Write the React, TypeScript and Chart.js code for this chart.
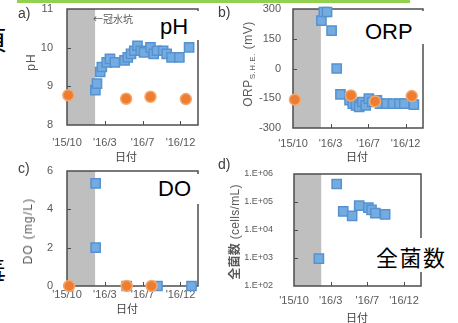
import React, { useEffect, useRef } from 'react';
import { Chart, registerables } from 'chart.js';

Chart.register(...registerables);

// ---------- data ----------
// x values are days counted from the axis origin ('15/10)
const xTickValues = [0, 140, 280, 420];
const xTickLabels = ["'15/10", "'16/3", "'16/7", "'16/12"];
const xMaxDays = 485;
const floodEndDay = 104;

// a) pH
const phFloodDays = [105, 111, 123, 129, 147, 159, 177, 213, 225, 237, 249, 261, 273, 285, 309, 321, 333, 356, 369, 387, 416, 452];
const phFloodValues = [8.9, 9.07, 9.37, 9.5, 9.62, 9.71, 9.62, 9.67, 9.75, 9.84, 9.92, 10.05, 9.92, 9.88, 10.01, 9.84, 9.92, 9.92, 9.84, 9.75, 9.75, 10.01];
const phRefDays = [5, 219, 309, 440];
const phRefValues = [8.77, 8.68, 8.73, 8.67];

// b) ORP
const orpFloodDays = [106, 115, 127, 144, 163, 177, 211, 223, 235, 247, 259, 271, 283, 295, 313, 325, 349, 373, 397, 415, 451];
const orpFloodValues = [241, 285, 285, 191, 0, -130, -160, -177, -186, -194, -169, -186, -152, -169, -160, -177, -177, -177, -177, -177, -182];
const orpRefDays = [7, 216, 306, 443];
const orpRefValues = [-157, -136, -166, -139];

// c) DO
const doFloodDays = [106, 106, 221, 335, 461];
const doFloodValues = [5.35, 2.0, 0, 0, 0];
const doRefDays = [8, 221, 313];
const doRefValues = [0, 0, 0];

// d) total bacteria
const countFloodDays = [95, 163, 188, 222, 249, 284, 296, 311, 348];
const countFloodValues = [950, 440000, 46000, 32000, 74000, 63000, 52000, 40000, 36000];

// y ticks
const phTicks = [8, 9, 10, 11];
const orpTicks = [-300, -150, 0, 150, 300];
const doTicks = [0, 2, 4, 6];
const countTicks = [1e2, 1e3, 1e4, 1e5, 1e6];

// ---------- helpers ----------
const zip = (xs: number[], ys: number[]) => xs.map((x, i) => ({ x, y: ys[i] }));

const LATIN = "'Liberation Sans', Arial, sans-serif";
const CJK = "'Noto Sans CJK JP', 'Noto Sans', sans-serif";

const decoPlugin = {
  id: 'deco',
  beforeDatasetsDraw(chart: any, _args: any, opts: any) {
    const { ctx, chartArea: ca, scales } = chart;
    const x = scales.x;
    const y = scales.y;
    ctx.save();
    const xe = x.getPixelForValue(opts.floodEnd);
    ctx.fillStyle = '#bfbfbf';
    ctx.fillRect(ca.left, ca.top, xe - ca.left, ca.bottom - ca.top);
    ctx.strokeStyle = '#4d4d4d';
    ctx.lineWidth = 1.5;
    ctx.strokeRect(ca.left, ca.top, ca.right - ca.left, ca.bottom - ca.top);
    ctx.lineWidth = 1;
    ctx.beginPath();
    x.ticks.forEach((t: any) => {
      const px = Math.round(x.getPixelForValue(t.value)) + 0.5;
      if (px > ca.left + 2 && px < ca.right - 2) {
        ctx.moveTo(px, ca.bottom);
        ctx.lineTo(px, ca.bottom - 4);
      }
    });
    y.ticks.forEach((t: any) => {
      const py = Math.round(y.getPixelForValue(t.value)) + 0.5;
      if (py > ca.top + 2 && py < ca.bottom - 2) {
        ctx.moveTo(ca.left, py);
        ctx.lineTo(ca.left + 4, py);
      }
    });
    ctx.stroke();
    ctx.restore();
  },
};

type PanelCfg = {
  left: number; top: number; w: number; h: number;
  yWidth: number; xHeight: number; padTop: number; padRight: number;
  yTickLen: number; xTickLen: number; xTickPad: number; yFont: number;
  yScale: any; yTickValues: number[]; yLabel: (v: number) => string;
  blue: { x: number; y: number }[]; orange: { x: number; y: number }[];
};

function Panel({ cfg }: { cfg: PanelCfg }) {
  const ref = useRef<HTMLCanvasElement>(null);
  useEffect(() => {
    const datasets: any[] = [];
    if (cfg.orange.length) {
      datasets.push({
        data: cfg.orange,
        pointStyle: 'circle',
        pointRadius: 5.5,
        backgroundColor: '#ed7d31',
        borderColor: '#f4a86f',
        borderWidth: 1.5,
        clip: false,
        order: 0,
      });
    }
    datasets.push({
      data: cfg.blue,
      pointStyle: 'rect',
      pointRadius: 6.5,
      backgroundColor: '#74ace2',
      borderColor: '#5592cf',
      borderWidth: 1.5,
      clip: false,
      order: 1,
    });
    const chart = new Chart(ref.current as HTMLCanvasElement, {
      type: 'scatter',
      data: { datasets },
      plugins: [decoPlugin],
      options: {
        responsive: false,
        animation: false,
        layout: { padding: { top: cfg.padTop, right: cfg.padRight, left: 0, bottom: 0 } },
        plugins: {
          legend: { display: false },
          tooltip: { enabled: false },
          deco: { floodEnd: floodEndDay },
        } as any,
        scales: {
          x: {
            type: 'linear',
            min: 0,
            max: xMaxDays,
            afterBuildTicks: (s: any) => { s.ticks = xTickValues.map((v) => ({ value: v })); },
            afterFit: (s: any) => { s.height = cfg.xHeight; },
            grid: { display: true, drawOnChartArea: false, drawTicks: true, tickLength: cfg.xTickLen, color: 'rgba(0,0,0,0)' },
            border: { display: false },
            ticks: {
              padding: cfg.xTickPad,
              color: '#595959',
              font: { family: LATIN, size: 11 },
              maxRotation: 0,
              autoSkip: false,
              callback: (v: any) => { const i = xTickValues.indexOf(Number(v)); return i >= 0 ? xTickLabels[i] : ''; },
            },
          },
          y: {
            ...cfg.yScale,
            afterBuildTicks: (s: any) => { s.ticks = cfg.yTickValues.map((v) => ({ value: v })); },
            afterFit: (s: any) => { s.width = cfg.yWidth; },
            grid: { display: true, drawOnChartArea: false, drawTicks: true, tickLength: cfg.yTickLen, color: 'rgba(0,0,0,0)' },
            border: { display: false },
            ticks: {
              padding: 3,
              color: '#595959',
              font: { family: LATIN, size: cfg.yFont },
              autoSkip: false,
              callback: (v: any) => cfg.yLabel(Number(v)),
            },
          },
        },
      } as any,
    });
    return () => chart.destroy();
  }, []);
  return (
    <canvas
      ref={ref}
      width={cfg.w}
      height={cfg.h}
      style={{ position: 'absolute', left: cfg.left, top: cfg.top, width: cfg.w, height: cfg.h }}
    />
  );
}

const panelA: PanelCfg = {
  left: 17, top: -3, w: 189, h: 158, yWidth: 50, xHeight: 30, padTop: 12, padRight: 4,
  yTickLen: 11, xTickLen: 8, xTickPad: 3, yFont: 11,
  yScale: { type: 'linear', min: 8, max: 11 }, yTickValues: phTicks, yLabel: (v) => String(v),
  blue: zip(phFloodDays, phFloodValues), orange: zip(phRefDays, phRefValues),
};
const panelB: PanelCfg = {
  left: 243, top: -3, w: 188, h: 161, yWidth: 50, xHeight: 30, padTop: 12, padRight: 4,
  yTickLen: 9, xTickLen: 6, xTickPad: 3, yFont: 11,
  yScale: { type: 'linear', min: -300, max: 300 }, yTickValues: orpTicks, yLabel: (v) => String(v),
  blue: zip(orpFloodDays, orpFloodValues), orange: zip(orpRefDays, orpRefValues),
};
const panelC: PanelCfg = {
  left: 17, top: 159, w: 189, h: 157, yWidth: 50, xHeight: 30, padTop: 12, padRight: 4,
  yTickLen: 11, xTickLen: 0, xTickPad: 2, yFont: 11,
  yScale: { type: 'linear', min: 0, max: 6 }, yTickValues: doTicks, yLabel: (v) => String(v),
  blue: zip(doFloodDays, doFloodValues), orange: zip(doRefDays, doRefValues),
};
const panelD: PanelCfg = {
  left: 244, top: 162, w: 185, h: 154, yWidth: 50, xHeight: 30, padTop: 12, padRight: 4,
  yTickLen: 18, xTickLen: 5, xTickPad: 3, yFont: 9,
  yScale: { type: 'logarithmic', min: 100, max: 1e6 }, yTickValues: countTicks,
  yLabel: (v) => '1.E+' + String(Math.round(Math.log10(v))).padStart(2, '0'),
  blue: zip(countFloodDays, countFloodValues), orange: [],
};

const abs = (s: React.CSSProperties): React.CSSProperties => ({ position: 'absolute', whiteSpace: 'nowrap', ...s });

function VTitle({ cx, cy, children, style }: { cx: number; cy: number; children: React.ReactNode; style?: React.CSSProperties }) {
  return (
    <div
      style={abs({
        left: cx, top: cy, transform: 'translate(-50%, -50%) rotate(-90deg)',
        fontFamily: LATIN, fontSize: 12, color: '#595959', lineHeight: '14px', ...style,
      })}
    >
      {children}
    </div>
  );
}

function XTitle({ cx, cy }: { cx: number; cy: number }) {
  return (
    <div style={abs({ left: cx, top: cy, transform: 'translate(-50%, -50%)', fontFamily: CJK, fontSize: 11, color: '#404040', lineHeight: '12px' })}>
      日付
    </div>
  );
}

function BigLabel({ left, top, text, w, h, bx, by, style }: { left: number; top: number; text: string; w: number; h: number; bx: number; by: number; style?: React.CSSProperties }) {
  return (
    <>
      <div style={abs({ left: bx, top: by, width: w, height: h, background: '#ffffff' })} />
      <div style={abs({ left, top, fontFamily: LATIN, fontSize: 22, lineHeight: '22px', color: '#000', ...style })}>{text}</div>
    </>
  );
}

export default function App() {
  return (
    <div style={{ position: 'fixed', left: 0, top: 0, width: 458, height: 323, background: '#fff', overflow: 'hidden' }}>
      <div style={abs({ left: 17, top: 0, width: 393, height: 3, background: '#92d050' })} />
      <div style={abs({ left: -19, top: 26, fontFamily: CJK, fontSize: 26, lineHeight: '26px', color: '#000' })}>頁</div>
      <div style={abs({ left: -22, top: 256, fontFamily: CJK, fontSize: 28, lineHeight: '28px', color: '#000' })}>毒</div>

      <Panel cfg={panelA} />
      <Panel cfg={panelB} />
      <Panel cfg={panelC} />
      <Panel cfg={panelD} />

      <div style={abs({ left: 93, top: 13, fontFamily: CJK, fontSize: 10, lineHeight: '12px', color: '#595959' })}>←冠水坑</div>

      <BigLabel bx={140} by={11} w={64} h={29} left={160} top={16} text="pH" />
      <BigLabel bx={358} by={11} w={72} h={33} left={365} top={21} text="ORP" />
      <BigLabel bx={150} by={174} w={56} h={30} left={158} top={178} text="DO" />
      <BigLabel bx={371} by={238} w={80} h={34} left={376} top={245} text="全菌数" style={{ fontFamily: CJK, fontSize: 22, letterSpacing: 1.5 }} />

      <div style={abs({ left: 18, top: 5, fontFamily: LATIN, fontSize: 14, lineHeight: '16px', color: '#404040' })}>a)</div>
      <div style={abs({ left: 218, top: 4, fontFamily: LATIN, fontSize: 14, lineHeight: '16px', color: '#404040' })}>b)</div>
      <div style={abs({ left: 18, top: 160, fontFamily: LATIN, fontSize: 14, lineHeight: '16px', color: '#404040' })}>c)</div>
      <div style={abs({ left: 218, top: 156, fontFamily: LATIN, fontSize: 14, lineHeight: '16px', color: '#404040' })}>d)</div>

      <VTitle cx={31} cy={62} style={{ letterSpacing: 1 }}>pH</VTitle>
      <VTitle cx={249} cy={64} style={{ letterSpacing: 0.5 }}>
        ORP<span style={{ fontSize: 8, position: 'relative', top: 3 }}>S.H.E.</span> (mV)
      </VTitle>
      <VTitle cx={28} cy={231} style={{ letterSpacing: 1.2 }}>DO (mg/L)</VTitle>
      <VTitle cx={234} cy={232} style={{ letterSpacing: 0.3 }}>
        <span style={{ fontFamily: CJK, fontWeight: 700 }}>全菌数</span> (cells/mL)
      </VTitle>

      <XTitle cx={126} cy={156} />
      <XTitle cx={357} cy={156} />
      <XTitle cx={127} cy={308} />
      <XTitle cx={357} cy={317} />
    </div>
  );
}
